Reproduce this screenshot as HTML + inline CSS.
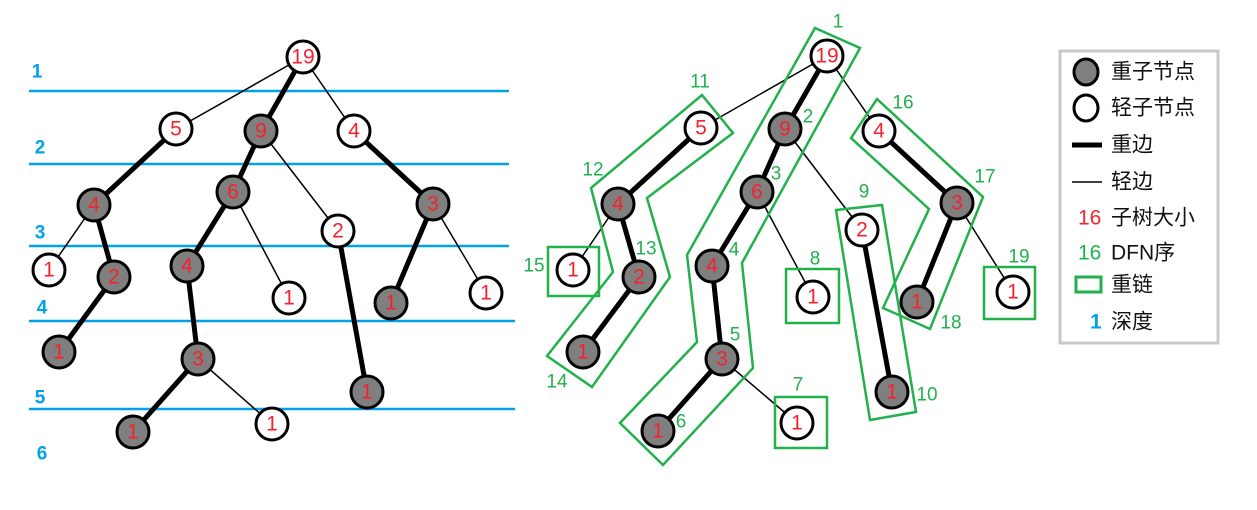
<!DOCTYPE html>
<html><head><meta charset="utf-8"><style>
html,body{margin:0;padding:0;background:#fff;}
svg{display:block}
text{font-family:"Liberation Sans","Noto Sans CJK SC",sans-serif;}
.n{fill:#f5222d;font-size:21px;text-anchor:middle;dominant-baseline:central;}
.d{fill:#22b14c;font-size:19px;text-anchor:middle;dominant-baseline:central;}
.b{fill:#00a2e8;font-size:19px;font-weight:bold;text-anchor:middle;dominant-baseline:central;}
.g{fill:none;stroke:#22b14c;stroke-width:2.5;}
.L{fill:#111;font-size:21px;dominant-baseline:central;}
</style></head><body>
<svg width="1257" height="510" viewBox="0 0 1257 510" xmlns="http://www.w3.org/2000/svg">
<g stroke="#00a2e8" stroke-width="2.5">
<line x1="29" y1="91" x2="509" y2="91"/>
<line x1="29" y1="164" x2="509" y2="164"/>
<line x1="29" y1="246" x2="509" y2="246"/>
<line x1="29" y1="321" x2="515" y2="321"/>
<line x1="29" y1="409" x2="515" y2="409"/>
</g>
<text class="b" x="37" y="72">1</text>
<text class="b" x="40" y="148">2</text>
<text class="b" x="40" y="233">3</text>
<text class="b" x="42" y="308">4</text>
<text class="b" x="40" y="398">5</text>
<text class="b" x="42" y="454">6</text>

<g stroke="#000" stroke-width="1.5">
<line x1="303" y1="57" x2="176" y2="129"/>
<line x1="303" y1="57" x2="354" y2="131"/>
<line x1="261" y1="131" x2="338" y2="231"/>
<line x1="94" y1="205" x2="49" y2="270"/>
<line x1="233" y1="192" x2="289" y2="298"/>
<line x1="433" y1="204" x2="486" y2="293"/>
<line x1="198" y1="359" x2="272" y2="424"/>
</g>
<g stroke="#000" stroke-width="5">
<line x1="303" y1="57" x2="261" y2="131"/>
<line x1="176" y1="129" x2="94" y2="205"/>
<line x1="354" y1="131" x2="433" y2="204"/>
<line x1="261" y1="131" x2="233" y2="192"/>
<line x1="233" y1="192" x2="187" y2="266"/>
<line x1="338" y1="231" x2="367" y2="392"/>
<line x1="433" y1="204" x2="391" y2="303"/>
<line x1="94" y1="205" x2="114" y2="277"/>
<line x1="114" y1="277" x2="59" y2="352"/>
<line x1="187" y1="266" x2="198" y2="359"/>
<line x1="198" y1="359" x2="133" y2="432"/>
</g>
<g stroke="#000" stroke-width="3">
<circle cx="303" cy="57" r="16" fill="#fff"/>
<circle cx="176" cy="129" r="16" fill="#fff"/>
<circle cx="261" cy="131" r="16" fill="#7f7f7f"/>
<circle cx="354" cy="131" r="16" fill="#fff"/>
<circle cx="94" cy="205" r="16" fill="#7f7f7f"/>
<circle cx="233" cy="192" r="16" fill="#7f7f7f"/>
<circle cx="338" cy="231" r="16" fill="#fff"/>
<circle cx="433" cy="204" r="16" fill="#7f7f7f"/>
<circle cx="49" cy="270" r="16" fill="#fff"/>
<circle cx="114" cy="277" r="16" fill="#7f7f7f"/>
<circle cx="187" cy="266" r="16" fill="#7f7f7f"/>
<circle cx="289" cy="298" r="16" fill="#fff"/>
<circle cx="391" cy="303" r="16" fill="#7f7f7f"/>
<circle cx="486" cy="293" r="16" fill="#fff"/>
<circle cx="59" cy="352" r="16" fill="#7f7f7f"/>
<circle cx="198" cy="359" r="16" fill="#7f7f7f"/>
<circle cx="367" cy="392" r="16" fill="#7f7f7f"/>
<circle cx="133" cy="432" r="16" fill="#7f7f7f"/>
<circle cx="272" cy="424" r="16" fill="#fff"/>
</g>
<text class="n" x="303" y="57">19</text>
<text class="n" x="176" y="129">5</text>
<text class="n" x="261" y="131">9</text>
<text class="n" x="354" y="131">4</text>
<text class="n" x="94" y="205">4</text>
<text class="n" x="233" y="192">6</text>
<text class="n" x="338" y="231">2</text>
<text class="n" x="433" y="204">3</text>
<text class="n" x="49" y="270">1</text>
<text class="n" x="114" y="277">2</text>
<text class="n" x="187" y="266">4</text>
<text class="n" x="289" y="298">1</text>
<text class="n" x="391" y="303">1</text>
<text class="n" x="486" y="293">1</text>
<text class="n" x="59" y="352">1</text>
<text class="n" x="198" y="359">3</text>
<text class="n" x="367" y="392">1</text>
<text class="n" x="133" y="432">1</text>
<text class="n" x="272" y="424">1</text>

<g stroke="#000" stroke-width="1.5">
<line x1="827" y1="56" x2="701" y2="128"/>
<line x1="827" y1="56" x2="879" y2="131"/>
<line x1="785" y1="129" x2="862" y2="230"/>
<line x1="618" y1="204" x2="573" y2="270"/>
<line x1="757" y1="192" x2="813" y2="297"/>
<line x1="957" y1="203" x2="1013" y2="292"/>
<line x1="722" y1="359" x2="797" y2="423"/>
</g>
<g stroke="#000" stroke-width="5">
<line x1="827" y1="56" x2="785" y2="129"/>
<line x1="701" y1="128" x2="618" y2="204"/>
<line x1="879" y1="131" x2="957" y2="203"/>
<line x1="785" y1="129" x2="757" y2="192"/>
<line x1="757" y1="192" x2="712" y2="266"/>
<line x1="862" y1="230" x2="892" y2="392"/>
<line x1="957" y1="203" x2="917" y2="302"/>
<line x1="618" y1="204" x2="639" y2="277"/>
<line x1="639" y1="277" x2="583" y2="352"/>
<line x1="712" y1="266" x2="722" y2="359"/>
<line x1="722" y1="359" x2="658" y2="431"/>
</g>
<polygon class="g" points="815,28 860,48 742,263 753,368 663,465 620,423 697,342 687,255"/>
<polygon class="g" points="702,95 733,133 647,198 670,277 592,387 547,356 613,272 591,188"/>
<polygon class="g" points="836,210 882,205 916,412 870,420"/>
<polygon class="g" points="877,99 983,197 930,329 883,308 929,209 851,138"/>
<rect class="g" x="548" y="247" width="51" height="49"/>
<rect class="g" x="786" y="269" width="53" height="54"/>
<rect class="g" x="775" y="397" width="52" height="51"/>
<rect class="g" x="984" y="267" width="51" height="52"/>
<g stroke="#000" stroke-width="3">
<circle cx="827" cy="56" r="16" fill="#fff"/>
<circle cx="701" cy="128" r="16" fill="#fff"/>
<circle cx="785" cy="129" r="16" fill="#7f7f7f"/>
<circle cx="879" cy="131" r="16" fill="#fff"/>
<circle cx="618" cy="204" r="16" fill="#7f7f7f"/>
<circle cx="757" cy="192" r="16" fill="#7f7f7f"/>
<circle cx="862" cy="230" r="16" fill="#fff"/>
<circle cx="957" cy="203" r="16" fill="#7f7f7f"/>
<circle cx="573" cy="270" r="16" fill="#fff"/>
<circle cx="639" cy="277" r="16" fill="#7f7f7f"/>
<circle cx="712" cy="266" r="16" fill="#7f7f7f"/>
<circle cx="813" cy="297" r="16" fill="#fff"/>
<circle cx="917" cy="302" r="16" fill="#7f7f7f"/>
<circle cx="1013" cy="292" r="16" fill="#fff"/>
<circle cx="583" cy="352" r="16" fill="#7f7f7f"/>
<circle cx="722" cy="359" r="16" fill="#7f7f7f"/>
<circle cx="892" cy="392" r="16" fill="#7f7f7f"/>
<circle cx="658" cy="431" r="16" fill="#7f7f7f"/>
<circle cx="797" cy="423" r="16" fill="#fff"/>
</g>
<text class="n" x="827" y="56">19</text>
<text class="n" x="701" y="128">5</text>
<text class="n" x="785" y="129">9</text>
<text class="n" x="879" y="131">4</text>
<text class="n" x="618" y="204">4</text>
<text class="n" x="757" y="192">6</text>
<text class="n" x="862" y="230">2</text>
<text class="n" x="957" y="203">3</text>
<text class="n" x="573" y="270">1</text>
<text class="n" x="639" y="277">2</text>
<text class="n" x="712" y="266">4</text>
<text class="n" x="813" y="297">1</text>
<text class="n" x="917" y="302">1</text>
<text class="n" x="1013" y="292">1</text>
<text class="n" x="583" y="352">1</text>
<text class="n" x="722" y="359">3</text>
<text class="n" x="892" y="392">1</text>
<text class="n" x="658" y="431">1</text>
<text class="n" x="797" y="423">1</text>
<text class="d" x="838" y="22">1</text>
<text class="d" x="700" y="82">11</text>
<text class="d" x="808" y="117">2</text>
<text class="d" x="903" y="103">16</text>
<text class="d" x="593" y="170">12</text>
<text class="d" x="776" y="174">3</text>
<text class="d" x="864" y="192">9</text>
<text class="d" x="985" y="177">17</text>
<text class="d" x="646" y="249">13</text>
<text class="d" x="734" y="250">4</text>
<text class="d" x="534" y="266">15</text>
<text class="d" x="815" y="259">8</text>
<text class="d" x="1019" y="257">19</text>
<text class="d" x="735" y="335">5</text>
<text class="d" x="557" y="382">14</text>
<text class="d" x="951" y="323">18</text>
<text class="d" x="798" y="385">7</text>
<text class="d" x="927" y="395">10</text>
<text class="d" x="681" y="422">6</text>

<rect x="1060" y="51" width="158" height="292" fill="#fff" stroke="#c8c8c8" stroke-width="3"/>
<ellipse cx="1086" cy="72" rx="12" ry="13" fill="#7f7f7f" stroke="#000" stroke-width="3"/>
<text class="L" x="1111" y="72">重子节点</text>
<ellipse cx="1086" cy="108" rx="12" ry="13" fill="#fff" stroke="#000" stroke-width="3"/>
<text class="L" x="1111" y="108">轻子节点</text>
<line x1="1072" y1="145" x2="1102" y2="145" stroke="#000" stroke-width="5"/>
<text class="L" x="1111" y="145">重边</text>
<line x1="1072" y1="182" x2="1102" y2="182" stroke="#000" stroke-width="1.5"/>
<text class="L" x="1111" y="182">轻边</text>
<text class="L" x="1078" y="218" style="fill:#f5222d">16</text>
<text class="L" x="1111" y="218">子树大小</text>
<text class="L" x="1078" y="253" style="fill:#22b14c">16</text>
<text class="L" x="1111" y="253">DFN序</text>
<rect x="1076" y="277" width="25" height="15" fill="none" stroke="#22b14c" stroke-width="3"/>
<text class="L" x="1111" y="285">重链</text>
<text class="L" x="1090" y="322" style="fill:#00a2e8;font-weight:bold">1</text>
<text class="L" x="1111" y="322">深度</text>
</svg>
</body></html>
